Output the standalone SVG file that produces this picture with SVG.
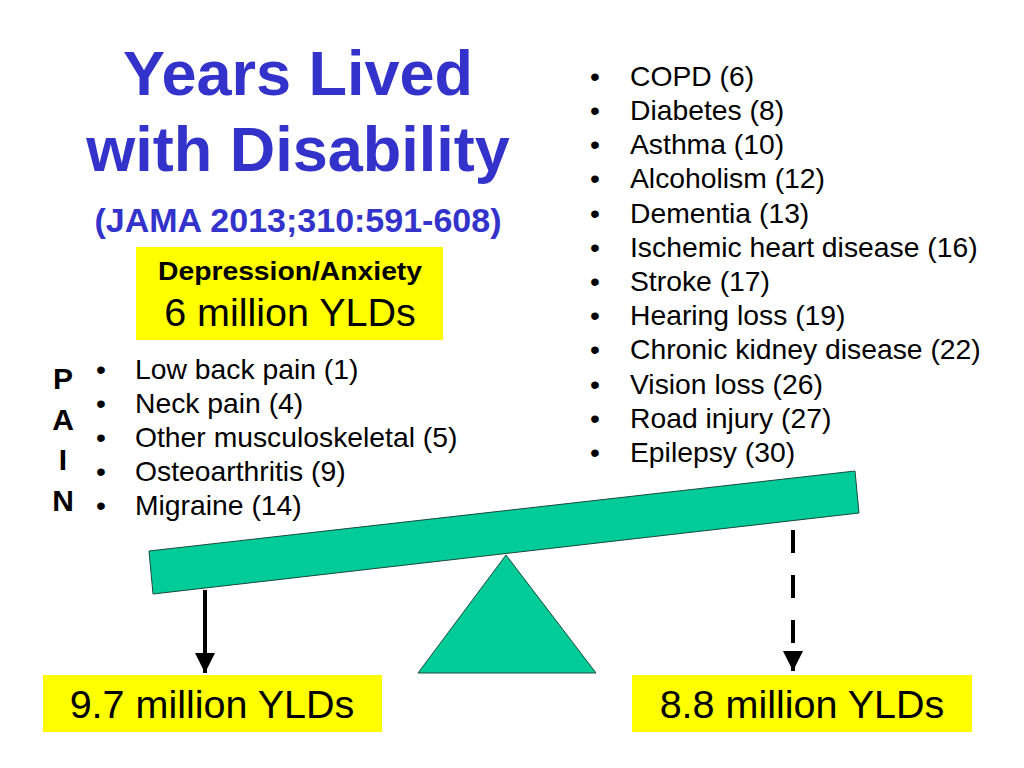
<svg xmlns="http://www.w3.org/2000/svg" width="1024" height="768" viewBox="0 0 1024 768">
<style>
.t{font-family:"Liberation Sans",Arial,sans-serif;fill:#000}
.title{font-family:"Liberation Sans",Arial,sans-serif;font-weight:bold;fill:#3333cc}
.li{font-size:28.3px}
.pain{font-family:"Liberation Sans",Arial,sans-serif;font-weight:bold;font-size:30px;text-anchor:middle}
.yel{fill:#ffff00}
.grn{fill:#00cc99;stroke:#1a4a3a;stroke-width:1}
</style>
<defs>
<marker id="ah" viewBox="0 0 10 10" refX="10" refY="5" markerWidth="5" markerHeight="5" markerUnits="strokeWidth" orient="auto">
<path d="M0,0 L10,5 L0,10 Z" fill="#000"/>
</marker>
</defs>
<rect width="1024" height="768" fill="#fff"/>
<g id="title">
<text class="title" x="298" y="95" font-size="63" text-anchor="middle">Years Lived</text>
<text class="title" x="298" y="171" font-size="63" text-anchor="middle">with Disability</text>
<text class="title" x="298" y="232" font-size="33" text-anchor="middle" textLength="407" lengthAdjust="spacingAndGlyphs">(JAMA 2013;310:591-608)</text>
</g>
<g id="depression">
<rect class="yel" x="136" y="247" width="307" height="93"/>
<text class="t" x="290" y="280" font-size="26" font-weight="bold" text-anchor="middle" textLength="264" lengthAdjust="spacingAndGlyphs">Depression/Anxiety</text>
<text class="t" x="290" y="326" font-size="39.5" text-anchor="middle">6 million YLDs</text>
</g>
<g id="right-list" class="t li">
<text x="590" y="86">•</text><text x="630" y="86">COPD (6)</text>
<text x="590" y="120">•</text><text x="630" y="120">Diabetes (8)</text>
<text x="590" y="154">•</text><text x="630" y="154">Asthma (10)</text>
<text x="590" y="188">•</text><text x="630" y="188">Alcoholism (12)</text>
<text x="590" y="223">•</text><text x="630" y="223">Dementia (13)</text>
<text x="590" y="257">•</text><text x="630" y="257">Ischemic heart disease (16)</text>
<text x="590" y="291">•</text><text x="630" y="291">Stroke (17)</text>
<text x="590" y="325">•</text><text x="630" y="325">Hearing loss (19)</text>
<text x="590" y="359">•</text><text x="630" y="359">Chronic kidney disease (22)</text>
<text x="590" y="394">•</text><text x="630" y="394">Vision loss (26)</text>
<text x="590" y="428">•</text><text x="630" y="428">Road injury (27)</text>
<text x="590" y="462">•</text><text x="630" y="462">Epilepsy (30)</text>
</g>
<g id="pain">
<text class="pain" x="63" y="389">P</text>
<text class="pain" x="63" y="430">A</text>
<text class="pain" x="63" y="470">I</text>
<text class="pain" x="63" y="511">N</text>
</g>
<g id="left-list" class="t li">
<text x="96" y="379">•</text><text x="135" y="379">Low back pain (1)</text>
<text x="96" y="413">•</text><text x="135" y="413">Neck pain (4)</text>
<text x="96" y="447">•</text><text x="135" y="447">Other musculoskeletal (5)</text>
<text x="96" y="481">•</text><text x="135" y="481">Osteoarthritis (9)</text>
<text x="96" y="515">•</text><text x="135" y="515">Migraine (14)</text>
</g>
<g id="seesaw">
<polygon class="grn" points="418,673 506,555 596,673"/>
<polygon class="grn" points="149,551 855,471 859,513 153,594"/>
</g>
<g id="connectors">
<line x1="205" y1="590" x2="205" y2="673" stroke="#000" stroke-width="4" marker-end="url(#ah)"/>
<line x1="793" y1="530" x2="793" y2="671" stroke="#000" stroke-width="4" stroke-dasharray="23,22" marker-end="url(#ah)"/>
</g>
<g id="left-total">
<rect class="yel" x="43" y="675" width="339" height="57"/>
<text class="t" x="212" y="718" font-size="39.5" text-anchor="middle">9.7 million YLDs</text>
</g>
<g id="right-total">
<rect class="yel" x="632" y="675" width="340" height="57"/>
<text class="t" x="802" y="718" font-size="39.5" text-anchor="middle">8.8 million YLDs</text>
</g>
</svg>
